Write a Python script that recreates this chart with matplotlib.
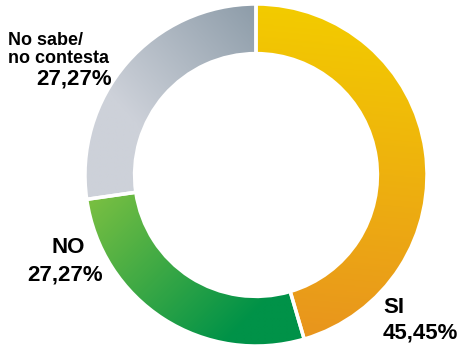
import numpy as np
import matplotlib.pyplot as plt
from matplotlib.colors import LinearSegmentedColormap

labels = ["SI", "NO", "No sabe/\nno contesta"]
values = [45.45, 27.27, 27.27]
pct_text = ["45,45%", "27,27%", "27,27%"]

# gradient colours (start, end) and gradient direction (from, to)
grad_colors = [("#F3CB00", "#E8921F"), ("#86C441", "#009248"), ("#CDD1D9", "#8898A5")]
grad_dirs = [((0.0, 1.0), (-0.2, -1.0)), ((-1.0, 0.0), (-0.1, -0.9)), ((-0.7, 0.3), (0.1, 1.0))]

W, H = 462, 347
cx, cy, R = 256, 175, 171

fig = plt.figure(figsize=(W / 100, H / 100), dpi=100)
ax = fig.add_axes([0, 0, 1, 1])

wedges, _ = ax.pie(values, startangle=90, counterclock=False, radius=1.0,
                   wedgeprops=dict(width=0.29, edgecolor="white", linewidth=2.5))

xs = np.linspace(-1, 1, 300)
X, Y = np.meshgrid(xs, xs[::-1])
for w, (c0, c1), (p0, p1) in zip(wedges, grad_colors, grad_dirs):
    w.set_facecolor("none")
    d = np.array(p1) - np.array(p0)
    t = ((X - p0[0]) * d[0] + (Y - p0[1]) * d[1]) / (d @ d)
    t = np.clip(t, 0, 1)
    cmap = LinearSegmentedColormap.from_list("g", [c0, c1])
    im = ax.imshow(t, cmap=cmap, vmin=0, vmax=1, extent=(-1, 1, -1, 1),
                   interpolation="bilinear", zorder=0)
    im.set_clip_path(w)
    w.set_zorder(2)

ax.set_aspect("auto")
ax.set_xlim(-cx / R, (W - cx) / R)
ax.set_ylim(-(H - cy) / R, cy / R)
ax.axis("off")

font = ["Liberation Sans Narrow", "Liberation Sans", "DejaVu Sans"]

def px(x, y):
    return x / W, 1 - y / H

fig.text(*px(383, 313), labels[0], fontsize=16, fontweight="bold", family=font, ha="left", va="baseline")
fig.text(*px(383, 338), pct_text[0], fontsize=16, fontweight="bold", family=font, ha="left", va="baseline")
fig.text(*px(68, 253), labels[1], fontsize=16, fontweight="bold", family=font, ha="center", va="baseline")
fig.text(*px(65, 281), pct_text[1], fontsize=16, fontweight="bold", family=font, ha="center", va="baseline")
fig.text(*px(8, 45), "No sabe/", fontsize=13, fontweight="bold", family=font, ha="left", va="baseline")
fig.text(*px(8, 63), "no contesta", fontsize=13, fontweight="bold", family=font, ha="left", va="baseline")
fig.text(*px(112, 85), pct_text[2], fontsize=16, fontweight="bold", family=font, ha="right", va="baseline")

fig.savefig("out.png", dpi=100)
